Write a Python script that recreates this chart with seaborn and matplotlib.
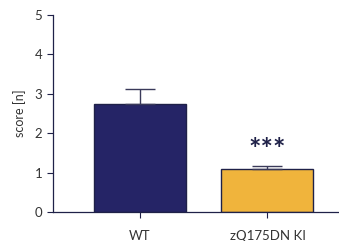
import matplotlib
matplotlib.use("Agg")
import matplotlib.pyplot as plt
import seaborn as sns
import pandas as pd

groups = ["WT", "zQ175DN KI"]
means = [2.74, 1.09]
sem = [0.38, 0.07]
colors = ["#252466", "#F0B43C"]
signif = ["", "***"]

sns.set_style("ticks")
plt.rcParams['font.family'] = ['Lato', 'DejaVu Sans']

df = pd.DataFrame({"group": groups, "score": means})

fig = plt.figure(figsize=(3.39, 2.41), dpi=100)
ax = fig.add_axes([0.156, 0.12, 0.844, 0.818])
navy = "#1f2148"
sns.barplot(data=df, x="group", y="score", hue="group", palette=colors, saturation=1,
            width=0.72, edgecolor=navy, linewidth=1.0, legend=False, ax=ax, errorbar=None)
ax.errorbar(range(len(groups)), means, yerr=[[0]*len(sem), sem], fmt="none",
            ecolor="#3a3a5a", elinewidth=1.0, capsize=11, capthick=1.0)
for i, s in enumerate(signif):
    if s:
        ax.text(i, means[i] + sem[i] + 0.42, s, ha="center", va="center",
                fontsize=21, fontweight="bold", color=navy)
ax.set_ylim(0, 5)
ax.set_xlim(-0.68, 1.56)
ax.set_yticks([0, 1, 2, 3, 4, 5])
ax.set_xlabel("")
ax.set_ylabel("score [n]", fontsize=9, color="#333333", labelpad=6)
ax.tick_params(axis="both", labelsize=9.5, colors="#333333", length=4, width=0.8)
ax.tick_params(axis="x", pad=9)
ax.tick_params(axis="both", color=navy)
for s in ["top", "right"]:
    ax.spines[s].set_visible(False)
for s in ["left", "bottom"]:
    ax.spines[s].set_color(navy)
    ax.spines[s].set_linewidth(0.9)
fig.savefig("out.png", dpi=100)
